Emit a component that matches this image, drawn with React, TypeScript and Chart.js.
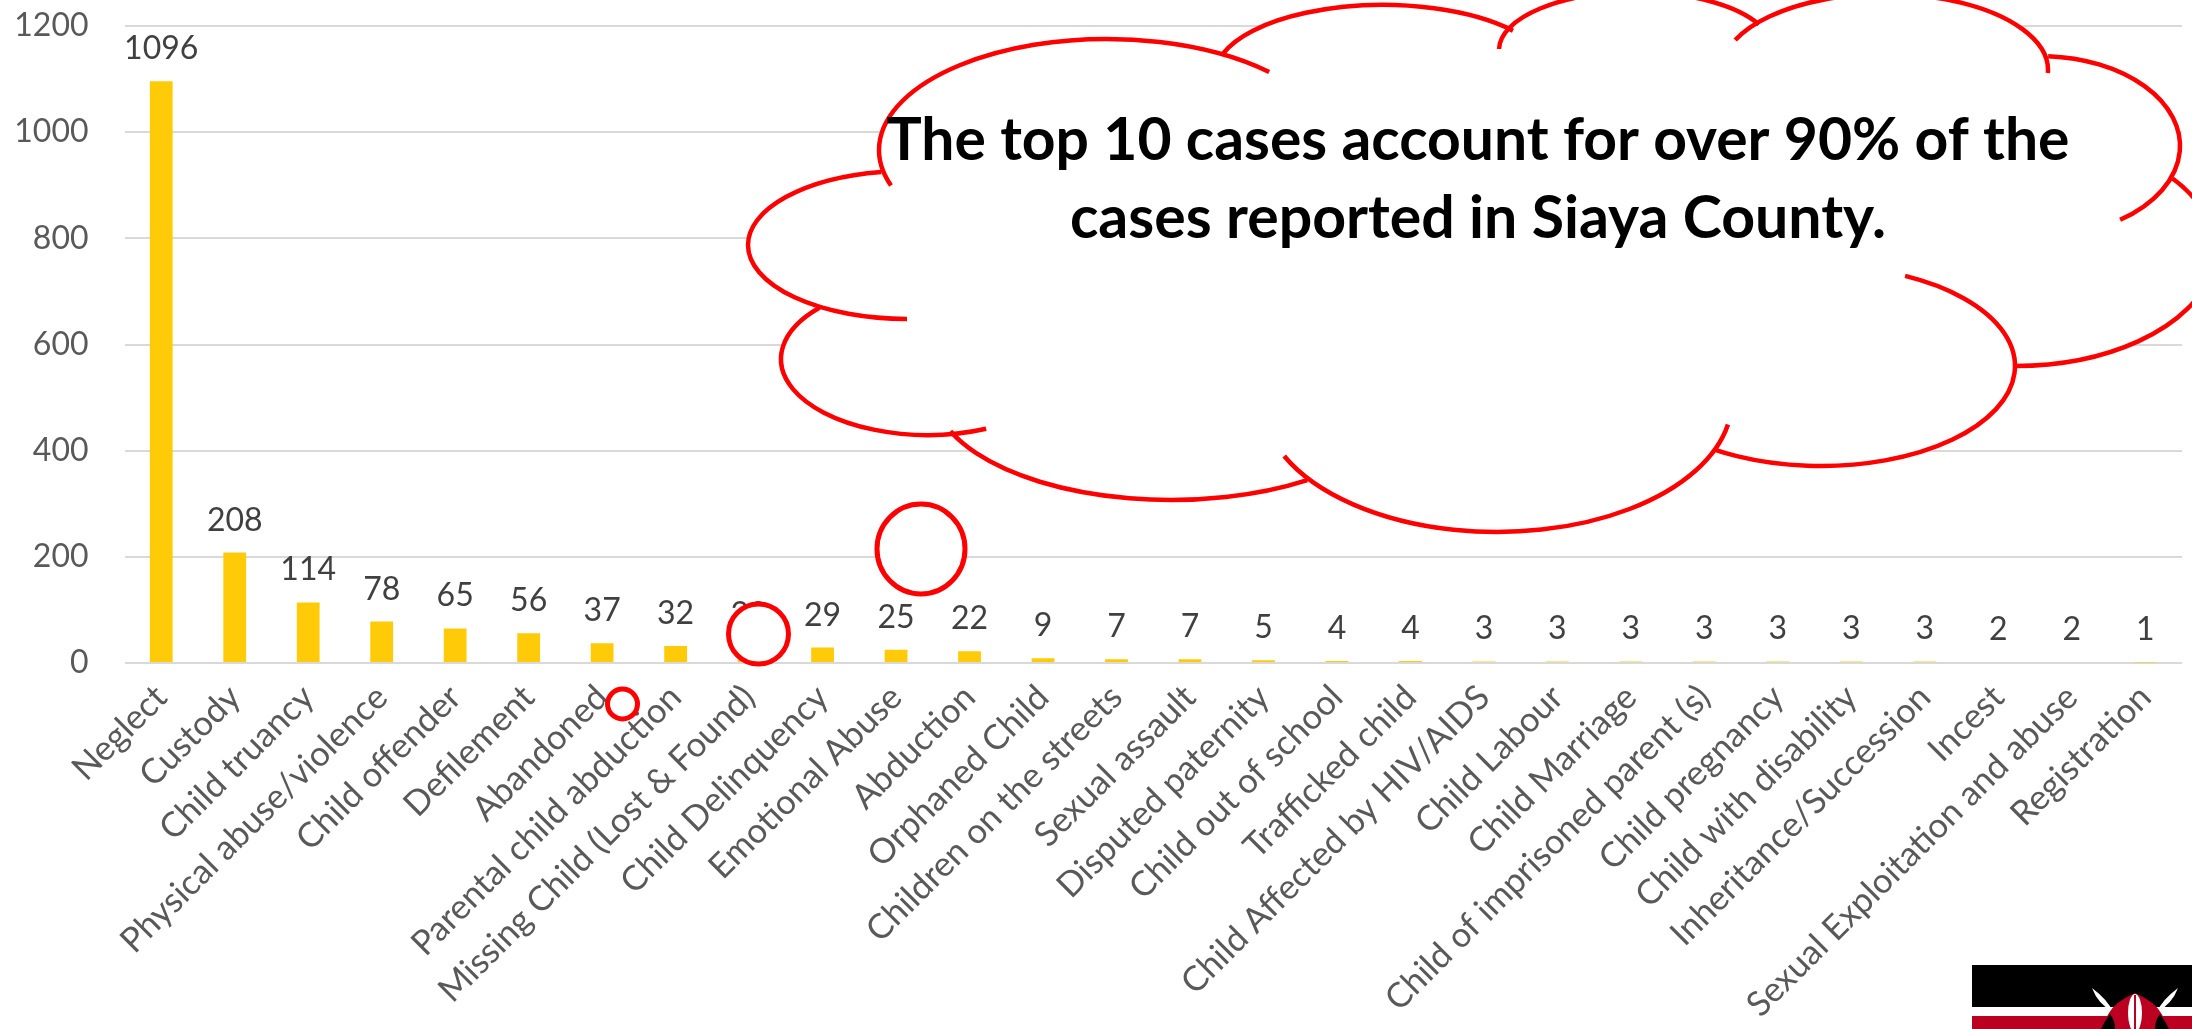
import React, { useEffect, useRef } from "react";
import { Chart, registerables } from "chart.js";

Chart.register(...registerables);

const categories = ["Neglect","Custody","Child truancy","Physical abuse/violence","Child offender","Defilement","Abandoned","Parental child abduction","Missing Child (Lost & Found)","Child Delinquency","Emotional Abuse","Abduction","Orphaned Child","Children on the streets","Sexual assault","Disputed paternity","Child out of school","Trafficked child","Child Affected by HIV/AIDS","Child Labour","Child Marriage","Child of imprisoned parent (s)","Child pregnancy","Child with disability","Inheritance/Succession","Incest","Sexual Exploitation and abuse","Registration"];
const cases = [1096,208,114,78,65,56,37,32,30,29,25,22,9,7,7,5,4,4,3,3,3,3,3,3,3,2,2,1];
const yTicks = [0,200,400,600,800,1000,1200];
const calloutLines = ["The top 10 cases account for over 90% of the","cases reported in Siaya County."];

const FONT = "Lato, Carlito, sans-serif";
// cx, cy, rx, ry, startX, startY, endX, endY
const puffs: number[][] = [
  [1107,150,228,111, 888,186, 1267,73],
  [1383,75,168,70, 1225,54, 1509,32],
  [1636,50,137,58, 1499,49, 1761,24],
  [1885,70,163,76, 1735,40, 2048,73],
  [2040,146,140,90, 2048,58, 2116,216],
  [2015,250,200,116, 2165,182, 2015,366],
  [1821,366,194,100, 1905,276, 1716,450],
  [1497,400,235,132, 1724,424, 1284,456],
  [1171,390,238,110, 1307,480, 947,432],
  [928,359,147,76, 983,425, 822,309],
  [907,245,159,74, 907,317, 881,171],
];
const circles = [[921,549,44,45],[758.5,634,30,30],[622.5,704,15,15]];

const overlay = {
  id: "overlay",
  afterDatasetsDraw(chart: any) {
    const { ctx } = chart;
    const meta = chart.getDatasetMeta(0);
    ctx.save();
    ctx.fillStyle = "#404040";
    ctx.font = `32px ${FONT}`;
    ctx.textAlign = "center";
    ctx.textBaseline = "alphabetic";
    meta.data.forEach((bar: any, i: number) => {
      ctx.fillText(String(cases[i]), bar.x, bar.y - 22);
    });
    ctx.restore();
  },
  afterDraw(chart: any) {
    const { ctx } = chart;
    ctx.save();
    ctx.fillStyle = "#fff";
    ctx.beginPath();
    ctx.ellipse(1480, 280, 560, 190, 0, 0, Math.PI * 2);
    ctx.fill();
    for (const [cx,cy,rx,ry] of puffs) {
      ctx.beginPath();
      ctx.ellipse(cx,cy,rx,ry,0,0,Math.PI*2);
      ctx.fill();
    }
    ctx.strokeStyle = "#ff0000";
    ctx.lineWidth = 4.5;
    for (const [cx,cy,rx,ry,sx,sy,ex,ey] of puffs) {
      const a0 = Math.atan2((sy-cy)/ry,(sx-cx)/rx);
      const a1 = Math.atan2((ey-cy)/ry,(ex-cx)/rx);
      ctx.beginPath();
      ctx.ellipse(cx,cy,rx,ry,0,a0,a1,false);
      ctx.stroke();
    }
    for (const [cx,cy,rx,ry] of circles) {
      ctx.beginPath();
      ctx.ellipse(cx,cy,rx,ry,0,0,Math.PI*2);
      ctx.fillStyle = "#fff";
      ctx.fill();
      ctx.lineWidth = 5;
      ctx.stroke();
    }
    ctx.fillStyle = "#000";
    ctx.font = `bold 59px ${FONT}`;
    ctx.textAlign = "center";
    ctx.textBaseline = "alphabetic";
    ctx.fillText(calloutLines[0], 1478, 160, 1183);
    ctx.fillText(calloutLines[1], 1478, 238, 820);
    ctx.fillStyle = "#000";
    ctx.fillRect(1972,965,220,42);
    ctx.fillStyle = "#fff";
    ctx.fillRect(1972,1007,220,9);
    ctx.fillStyle = "#BB0022";
    ctx.fillRect(1972,1016,220,13);
    ctx.fillStyle = "#fff";
    ctx.beginPath();
    ctx.moveTo(2092,988); ctx.quadraticCurveTo(2108,1000,2113,1012); ctx.quadraticCurveTo(2098,1004,2092,988);
    ctx.moveTo(2178,988); ctx.quadraticCurveTo(2162,1000,2157,1012); ctx.quadraticCurveTo(2172,1004,2178,988);
    ctx.fill();
    ctx.fillStyle = "#BB0022";
    ctx.beginPath();
    ctx.moveTo(2135,993);
    ctx.quadraticCurveTo(2155,1002,2161,1013);
    ctx.quadraticCurveTo(2166,1020,2169,1029);
    ctx.lineTo(2101,1029);
    ctx.quadraticCurveTo(2104,1020,2109,1013);
    ctx.quadraticCurveTo(2115,1002,2135,993);
    ctx.fill();
    ctx.fillStyle = "#000";
    ctx.beginPath();
    ctx.moveTo(2101,1029); ctx.quadraticCurveTo(2105,1020,2110,1014); ctx.quadraticCurveTo(2115,1020,2115,1029);
    ctx.moveTo(2169,1029); ctx.quadraticCurveTo(2165,1020,2160,1014); ctx.quadraticCurveTo(2155,1020,2155,1029);
    ctx.fill();
    ctx.fillStyle = "#fff";
    ctx.beginPath();
    ctx.ellipse(2135,1013,7,19,0,0,Math.PI*2);
    ctx.fill();
    ctx.fillStyle = "#BB0022";
    ctx.fillRect(2134,995,2,34);
    ctx.restore();
  },
};

export default function App() {
  const ref = useRef<HTMLCanvasElement>(null);
  useEffect(() => {
    document.body.style.margin = "0";
    const chart = new Chart(ref.current!, {
      type: "bar",
      data: {
        labels: categories,
        datasets: [{ data: cases, backgroundColor: "#FFCB08", borderWidth: 0, barPercentage: 0.62, categoryPercentage: 0.5 }],
      },
      options: {
        responsive: false,
        animation: false,
        layout: { autoPadding: false, padding: { top: 26, right: 10, left: 0, bottom: 0 } },
        plugins: { legend: { display: false }, tooltip: { enabled: false }, title: { display: false } },
        scales: {
          y: {
            min: 0, max: 1200,
            afterBuildTicks(s: any) { s.ticks = yTicks.map((value) => ({ value })); },
            afterFit(s: any) { s.width = 124.5; s.paddingTop = 0; s.paddingBottom = 0; },
            border: { display: false },
            grid: { color: "#D9D9D9", lineWidth: 2, drawTicks: false },
            ticks: { color: "#595959", padding: 36, font: { family: FONT, size: 32 }, callback: (v: any) => String(v) },
          },
          x: {
            afterFit(s: any) { s.height = 366; s.paddingLeft = 0; s.paddingRight = 0; },
            border: { display: false },
            grid: { display: false, drawTicks: false },
            ticks: { color: "#595959", autoSkip: false, minRotation: 45, maxRotation: 45, padding: 14, font: { family: FONT, size: 34.5 } },
          },
        },
      },
      plugins: [overlay],
    } as any);
    return () => chart.destroy();
  }, []);
  return <canvas ref={ref} width={2192} height={1029} style={{ display: "block" }} />;
}
